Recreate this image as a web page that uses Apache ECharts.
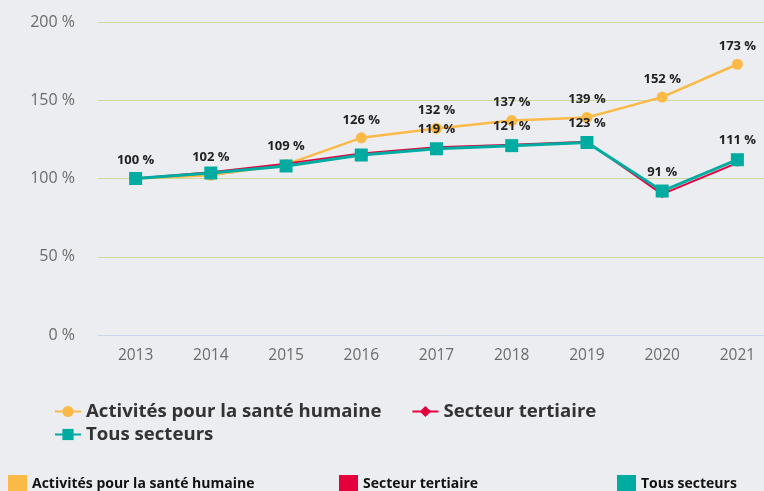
<!DOCTYPE html>
<html><head><meta charset="utf-8">
<script src="https://cdn.jsdelivr.net/npm/echarts@6/dist/echarts.min.js"></script>
<style>html,body{margin:0;padding:0;background:#ecedf0;overflow:hidden;}#c{width:775px;height:491px;}</style>
</head><body><div id="c"></div>
<script>
const categories = ['2013','2014','2015','2016','2017','2018','2019','2020','2021'];
const sante = [100, 102, 109, 126, 132, 137, 139, 152, 173];
const tertiaire = [100, 104, 109.5, 116, 120, 121.5, 123.5, 90, 110];
const tous = [100, 103.5, 108, 115, 119, 121, 123, 92, 112];
const santeLabels = [100, 102, 109, 126, 132, 137, 139, 152, 173];
const tousLabels = [null, null, null, null, 119, 121, 123, 91, 111];
const names = ['Activités pour la santé humaine', 'Secteur tertiaire', 'Tous secteurs'];
const colors = ['#fbba48', '#e4003d', '#00aba1'];

const labelStyle = {fontFamily:'Open Sans', fontWeight:'bold', fontSize:13, color:'#222', distance:6};
function withLabels(vals, labs){
  return vals.map((v,i)=>({value:v, label:{show: labs[i]!=null, formatter: labs[i]!=null ? labs[i]+' %' : ''}}));
}
const topLegendText = {fontFamily:'Open Sans', fontWeight:'bold', fontSize:18.6, color:'#333'};
const botLegendText = {fontFamily:'Open Sans', fontWeight:'bold', fontSize:14, color:'#111', padding:[4,0,0,0]};
const chart = echarts.init(document.getElementById('c'));
chart.setOption({
  backgroundColor:'#ecedf0',
  animation:false,
  grid:{left:98, right:0, top:22, bottom:156},
  xAxis:{type:'category', data:categories, boundaryGap:true,
    axisLine:{show:true, lineStyle:{color:'#ccd6eb', width:1}}, axisTick:{show:false},
    axisLabel:{color:'#6b6b6b', fontFamily:'Open Sans', fontSize:15.5, margin:13}},
  yAxis:{type:'value', min:0, max:200, interval:50,
    axisLine:{show:false}, axisTick:{show:false},
    axisLabel:{color:'#6b6b6b', fontFamily:'Open Sans', fontSize:16, margin:23, formatter:'{value} %'},
    splitLine:{lineStyle:{color:'#c9dba0', width:1}}},
  legend:[
    {data:[names[0], names[1]], left:54, top:402, padding:0, itemGap:30, itemWidth:26, itemHeight:14,
     textStyle:topLegendText},
    {data:[names[2]], left:54, top:425, padding:0, itemWidth:26, itemHeight:14,
     textStyle:topLegendText},
    {data:[{name:names[0], icon:'rect'}], left:8, top:475, padding:0, itemWidth:19, itemHeight:19,
     textStyle:botLegendText},
    {data:[{name:names[1], icon:'rect'}], left:339, top:475, padding:0, itemWidth:19, itemHeight:19,
     textStyle:botLegendText},
    {data:[{name:names[2], icon:'rect'}], left:617, top:475, padding:0, itemWidth:19, itemHeight:19,
     textStyle:botLegendText}
  ],
  series:[
    {name:names[0], type:'line', data:withLabels(sante, santeLabels), color:colors[0],
     symbol:'circle', symbolSize:11, lineStyle:{width:2.5, color:colors[0]}, itemStyle:{color:colors[0]},
     label:Object.assign({position:'top'}, labelStyle), z:2},
    {name:names[1], type:'line', data:tertiaire, color:colors[1],
     symbol:'diamond', symbolSize:8, lineStyle:{width:2, color:colors[1]}, itemStyle:{color:colors[1]}, z:3},
    {name:names[2], type:'line', data:withLabels(tous, tousLabels), color:colors[2],
     symbol:'rect', symbolSize:13, lineStyle:{width:3, color:colors[2]}, itemStyle:{color:colors[2]},
     label:Object.assign({position:'top'}, labelStyle), z:4}
  ]
});
</script></body></html>
